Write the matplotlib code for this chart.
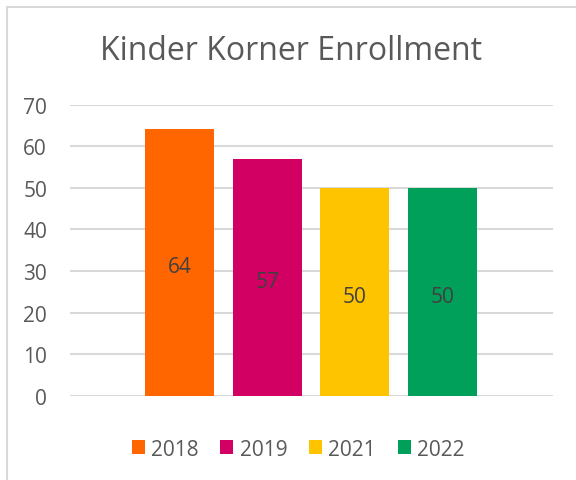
import matplotlib.pyplot as plt
from matplotlib.patches import Rectangle, Patch

years = ['2018', '2019', '2021', '2022']
enrollment = [64, 57, 50, 50]
colors = ['#ff6600', '#d10062', '#ffc400', '#00a05a']
yticks = [0, 10, 20, 30, 40, 50, 60, 70]

plt.rcParams['font.family'] = ['Open Sans', 'DejaVu Sans']

W, H = 576, 481
fig = plt.figure(figsize=(W / 100, H / 100), dpi=100)
ax = fig.add_axes([70 / W, 1 - 397 / H, (553 - 70) / W, (397 - 105.5) / H])

x = list(range(len(years)))
bars = ax.bar(x, enrollment, width=0.787, color=colors, zorder=3)
for b, v in zip(bars, enrollment):
    ax.annotate(str(v), (b.get_x() + b.get_width() / 2, v / 2), xytext=(0, -3),
                textcoords='offset points', ha='center', va='center',
                fontsize=15, color='#404040', zorder=4)

ax.set_ylim(0, 70)
ax.set_xlim(-1.249, 4.26)
ax.set_yticks(yticks)
ax.set_xticks([])
ax.yaxis.grid(True, color='#d9d9d9', linewidth=1.5, zorder=0)
ax.tick_params(axis='y', length=0, labelsize=15, labelcolor='#595959', pad=16.5)
for s in ax.spines.values():
    s.set_visible(False)

fig.text(291.5 / W, 1 - 52 / H, 'Kinder Korner Enrollment', ha='center', va='center',
         fontsize=23, color='#595959')

handles = [Patch(facecolor=c, edgecolor='none') for c in colors]
fig.legend(handles, years, loc='center', bbox_to_anchor=(298 / W, 1 - 450 / H), ncol=4,
           frameon=False, fontsize=15, labelcolor='#595959', handlelength=0.62,
           handleheight=0.62, handletextpad=0.3, columnspacing=1.05)

# chart frame (partly cut off by the screenshot)
fig.add_artist(Rectangle((6.5 / W, -0.1), 1.2, 1 - 8 / H + 0.1, transform=fig.transFigure,
                         fill=False, edgecolor='#d9d9d9', linewidth=1.5))

fig.savefig('out.png', dpi=100)
